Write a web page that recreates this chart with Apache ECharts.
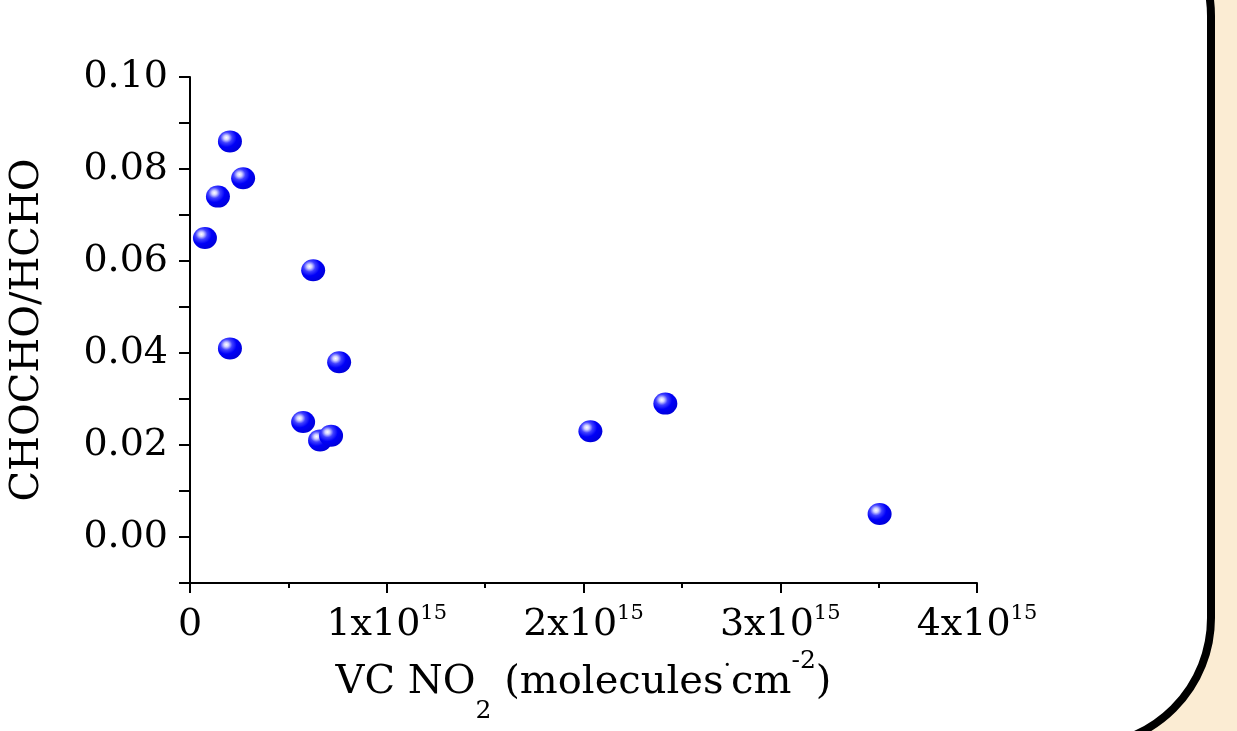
<!DOCTYPE html>
<html>
<head>
<meta charset="utf-8">
<script src="https://cdn.jsdelivr.net/npm/echarts@6/dist/echarts.min.js"></script>
<style>
  html, body { margin: 0; padding: 0; background: #fbecd3; }
  #chart { width: 1237px; height: 731px; }
</style>
</head>
<body>
<div id="chart"></div>
<script>
// VC NO2 (x, molecules/cm2) vs CHOCHO/HCHO ratio (y)
var vcNO2 = [0.203e15, 0.27e15, 0.142e15, 0.076e15, 0.626e15, 0.203e15, 0.758e15,
             0.575e15, 0.661e15, 0.717e15, 2.035e15, 2.416e15, 3.505e15]
var ratio = [0.086, 0.078, 0.074, 0.065, 0.058, 0.041, 0.038,
             0.025, 0.021, 0.022, 0.023, 0.029, 0.005]
var yLabelValues = [0, 0.02, 0.04, 0.06, 0.08, 0.10]

var points = []
for (var i = 0; i < vcNO2.length; ++i) {
  points.push([vcNO2[i], ratio[i]])
}

var font = 'DejaVu Serif'
var chart = echarts.init(document.getElementById('chart'))

chart.setOption({
  backgroundColor: '#fbecd3',
  animation: false,
  graphic: [{
    type: 'rect',
    z: -10,
    silent: true,
    shape: { x: -200, y: -112, width: 1411, height: 858, r: 128 },
    style: { fill: '#ffffff', stroke: '#000000', lineWidth: 8 }
  }],
  grid: {
    left: 190,
    right: 260,
    top: 77,
    bottom: 148,
    outerBoundsMode: 'none'
  },
  xAxis: {
    type: 'value',
    min: 0,
    max: 4e15,
    interval: 1e15,
    splitLine: { show: false },
    axisLine: { onZero: false, lineStyle: { color: '#000', width: 2 } },
    axisTick: { length: 10, lineStyle: { color: '#000', width: 2 } },
    minorTick: { show: true, splitNumber: 2, length: 5, lineStyle: { color: '#000', width: 2 } },
    axisLabel: {
      margin: 20,
      color: '#000',
      fontFamily: font,
      fontSize: 38,
      formatter: function (v) {
        if (v === 0) return '{b|0}'
        return '{b|' + Math.round(v / 1e15) + 'x10}{sup|15}'
      },
      rich: {
        b: { fontFamily: font, fontSize: 38, color: '#000', lineHeight: 44 },
        sup: { fontFamily: font, fontSize: 21, color: '#000', verticalAlign: 'top', lineHeight: 44 }
      }
    },
    name: '{b|VC NO}{sub|2}{b| (molecules}{dot|·}{b|cm}{sup|-2}{b|)}',
    nameLocation: 'middle',
    nameGap: 57,
    nameTextStyle: {
      rich: {
        b: { fontFamily: font, fontSize: 40, color: '#000', lineHeight: 82 },
        sub: { fontFamily: font, fontSize: 25, color: '#000', verticalAlign: 'bottom' },
        dot: { fontFamily: font, fontSize: 24, color: '#000', verticalAlign: 'top', padding: [13, 0, 0, 0] },
        sup: { fontFamily: font, fontSize: 25, color: '#000', verticalAlign: 'top', padding: [7, 0, 0, 0] }
      }
    }
  },
  yAxis: {
    type: 'value',
    min: -0.01,
    max: 0.10,
    interval: 0.01,
    splitLine: { show: false },
    axisLine: { lineStyle: { color: '#000', width: 2 } },
    axisTick: { length: 11, lineStyle: { color: '#000', width: 2 } },
    axisLabel: {
      customValues: yLabelValues,
      margin: 22,
      color: '#000',
      fontFamily: font,
      fontSize: 38,
      formatter: function (v) { return v.toFixed(2) }
    },
    name: 'CHOCHO/HCHO',
    nameLocation: 'middle',
    nameGap: 142,
    nameTextStyle: { fontFamily: font, fontSize: 40, color: '#000' }
  },
  series: [{
    type: 'scatter',
    data: points,
    symbol: 'circle',
    symbolSize: [24, 22],
    itemStyle: {
      opacity: 1,
      color: {
        type: 'radial',
        x: 0.35,
        y: 0.33,
        r: 0.72,
        colorStops: [
          { offset: 0, color: '#ffffff' },
          { offset: 0.14, color: '#d0d0ff' },
          { offset: 0.34, color: '#4040ff' },
          { offset: 0.6, color: '#0000f8' },
          { offset: 1, color: '#0000d8' }
        ]
      }
    }
  }]
})
</script>
</body>
</html>
